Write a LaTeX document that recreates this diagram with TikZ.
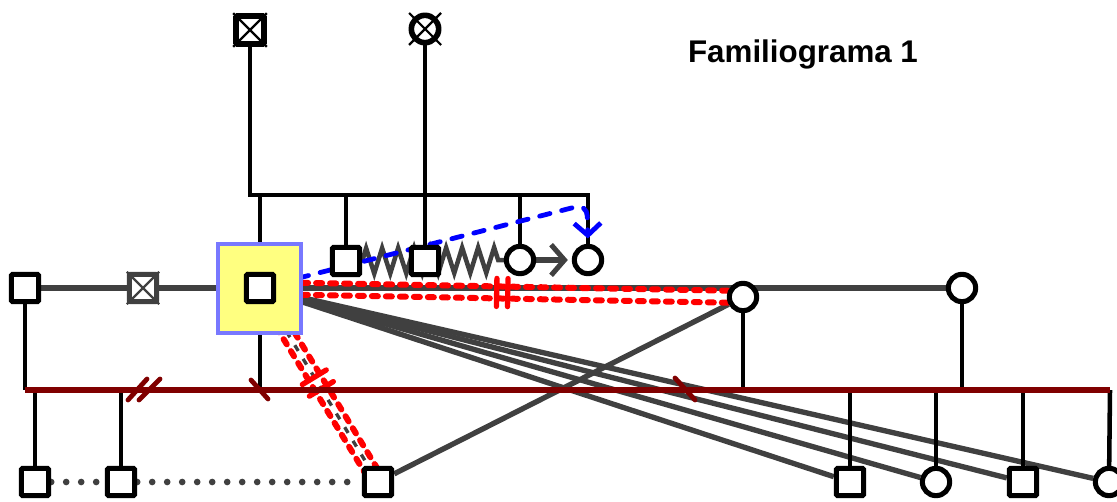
\documentclass[tikz,border=0pt]{standalone}
\usepackage{fontspec}
\setmainfont{Liberation Sans}
\usetikzlibrary{arrows.meta,decorations.pathmorphing,calc}
\pgfdeclarelayer{bg}
\pgfsetlayers{bg,main}
\definecolor{lgray}{HTML}{404040}
\definecolor{maroonc}{HTML}{800000}
\definecolor{boxyel}{HTML}{FFFF80}
\definecolor{boxblue}{HTML}{7878FF}
\definecolor{rdash}{HTML}{FF0000}
\definecolor{bdash}{HTML}{0000FF}
\tikzset{
  sq/.style={draw=black, fill=white, line width=3.8pt, minimum size=20.5pt, inner sep=0pt, rounded corners=1pt},
  ci/.style={circle, draw=black, fill=white, line width=3.8pt, minimum size=20.5pt, inner sep=0pt},
  idxbox/.style={draw=boxblue, fill=boxyel, line width=3.3pt, minimum width=62.25pt, minimum height=66.75pt, inner sep=0pt},
  blk/.style={draw=black, line width=3.4pt},
  gry/.style={draw=lgray, line width=4pt},
  mar/.style={draw=maroonc, line width=4pt},
  marmark/.style={draw=maroonc, line width=3.6pt, line cap=round},
  reddash/.style={draw=rdash, line width=4.5pt, line cap=round, dash pattern=on 4.5pt off 6pt},
  redmark/.style={draw=rdash, line width=4pt, line cap=round},
  centerdash/.style={draw=lgray, line width=2.5pt, dash pattern=on 5pt off 7pt},
  bluedash/.style={draw=bdash, line width=3.6pt, line cap=round, dash pattern=on 8pt off 9pt},
  xmark/.style={draw=black, line width=1.6pt},
  dotline/.style={draw=lgray, line width=5pt, line cap=round, dash pattern=on 0pt off 11.25pt},
}
\begin{document}
\begin{tikzpicture}[x=0.75pt,y=-0.75pt]
\useasboundingbox (0,0) rectangle (1117,502);
% title
\node[font=\bfseries\fontsize{23.5}{28}\selectfont] (title) at (803,54) {Familiograma 1};
% grandparents
\node[sq, line width=4.2pt, minimum size=21pt] (gf) at (250,30) {};
\draw[xmark] (gf.north west) -- (gf.south east) (gf.north east) -- (gf.south west);
\node[ci, line width=4.2pt] (gm) at (425,29) {};
\draw[xmark] ($(gm)+(-16,-16)$) -- ($(gm)+(16,16)$) ($(gm)+(16,-16)$) -- ($(gm)+(-16,16)$);
% index box and person
\node[idxbox] (box) at (259.5,288.5) {};
\node[sq] (idx) at (260,288) {};
% siblings
\node[sq] (s1) at (346,261) {};
\node[sq] (s2) at (425,261) {};
\node[ci] (c1) at (520,260) {};
\node[ci] (c2) at (588,260) {};
% left partners
\node[sq] (L1) at (25,288) {};
\node[sq, draw=lgray] (xs) at (143,288) {};
\draw[xmark, draw=lgray] (xs.north west) -- (xs.south east) (xs.north east) -- (xs.south west);
% right partners
\node[ci] (m1) at (743,297) {};
\node[ci] (w2) at (962,288) {};
% bottom row
\node[sq] (b1) at (35,482) {};
\node[sq] (b2) at (121,482) {};
\node[sq] (b3) at (378,482) {};
\node[sq] (b4) at (850,482) {};
\node[ci] (b5) at (936,482) {};
\node[sq] (b6) at (1023,482) {};
\node[ci] (b7) at (1109,482) {};
% junction coordinates
\coordinate (sbL) at (250,195);
\coordinate (sbR) at (588,195);
\coordinate (gmj) at (425,195);
\coordinate (j1) at (260,195);
\coordinate (j2) at (346,195);
\coordinate (j4) at (520,195);
\coordinate (mbL) at (25,390);
\coordinate (mbR) at (1110,390);
\coordinate (ji) at (260,390);
\coordinate (jm) at (743,390);
\coordinate (jw) at (962,390);
\coordinate (k1) at (35,390);
\coordinate (k2) at (121,390);
\coordinate (k4) at (850,390);
\coordinate (k5) at (936,390);
\coordinate (k6) at (1023,390);
\coordinate (bturn) at (587,204);
\begin{pgfonlayer}{bg}
  % family of origin
  \draw[blk] (gf) -- (sbL) -- (sbR) -- (c2);
  \draw[blk] (gm) -- (gmj) -- (s2);
  \draw[blk] (j1) -- (idx);
  \draw[blk] (j2) -- (s1);
  \draw[blk] (j4) -- (c1);
  % relations between siblings
  \draw[draw=lgray, line width=3.4pt, decorate, decoration={zigzag, segment length=12pt, amplitude=9.5pt}] (s1) -- (c1);
  \draw[draw=lgray, line width=3.8pt, -{Straight Barb[length=10pt,width=23pt]}, shorten >=3pt] (c1) -- (c2);
  % partner lines
  \draw[gry] (L1) -- (xs) -- (idx);
  \draw[gry] (idx) -- (w2);
  \draw[gry] (idx) -- (b4);
  \draw[gry] (idx) -- (b5);
  \draw[gry] (idx) -- (b6);
  \draw[gry] (idx) -- (b7);
  \draw[gry] (m1) -- (b3);
  % red conflictive relations
  \draw[reddash] ($(idx)!4.5pt!90:(m1)$) -- ($(m1)!4.5pt!-90:(idx)$);
  \draw[reddash] ($(idx)!4.5pt!-90:(m1)$) -- ($(m1)!4.5pt!90:(idx)$);
  \draw[centerdash] (idx) -- (b3);
  \draw[reddash] ($(idx)!4.8pt!90:(b3)$) -- ($(b3)!4.8pt!-90:(idx)$);
  \draw[reddash] ($(idx)!4.8pt!-90:(b3)$) -- ($(b3)!4.8pt!90:(idx)$);
  \coordinate (h1) at ($(idx)!0.49!(m1)$);
  \coordinate (h2) at ($(idx)!0.513!(m1)$);
  \coordinate (h3) at ($(idx)!0.46!(b3)$);
  \coordinate (h4) at ($(idx)!0.52!(b3)$);
  \draw[redmark] ($(h1)!10.5pt!90:(m1)$) -- ($(h1)!10.5pt!-90:(m1)$);
  \draw[redmark] ($(h2)!10.5pt!90:(m1)$) -- ($(h2)!10.5pt!-90:(m1)$);
  \draw[redmark] ($(h3)!10.5pt!90:(b3)$) -- ($(h3)!10.5pt!-90:(b3)$);
  \draw[redmark] ($(h4)!10.5pt!90:(b3)$) -- ($(h4)!10.5pt!-90:(b3)$);
  % blue relation
  \draw[bluedash, rounded corners=9pt, -{Straight Barb[length=9pt,width=20pt]}, shorten >=4pt] (idx) -- (bturn) -- (c2.north);
  % children verticals
  \draw[blk] (L1) -- (mbL);
  \draw[blk] (idx) -- (ji);
  \draw[blk] (m1) -- (jm);
  \draw[blk] (w2) -- (jw);
  \draw[blk] (k1) -- (b1);
  \draw[blk] (k2) -- (b2);
  \draw[blk] (k4) -- (b4);
  \draw[blk] (k5) -- (b5);
  \draw[blk] (k6) -- (b6);
  \draw[blk] (mbR) -- (b7);
  % maroon bar and marks
  \draw[mar] (mbL) -- (mbR);
  \draw[marmark] (128,400) -- (147,379) (139,400) -- (160,379);
  \draw[marmark] (251,380) -- (268,399);
  \draw[marmark] (675,378) -- (695,400);
  % dotted sibling links
  \draw[dotline] (b1) -- (b2) -- (b3);
\end{pgfonlayer}
\end{tikzpicture}
\end{document}
